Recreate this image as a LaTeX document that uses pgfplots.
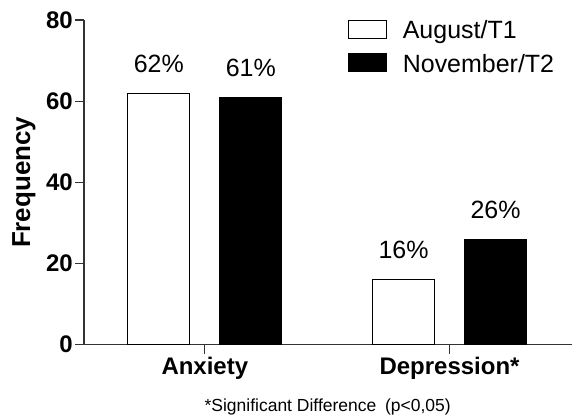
\documentclass[border=0pt]{standalone}
\usepackage{fontspec}
\setmainfont{Liberation Sans}
\usepackage{pgfplots}
\pgfplotsset{compat=1.18}

\begin{document}
\begin{tikzpicture}
\begin{axis}[
    scale only axis,
    width=489pt, height=325pt,
    ybar,
    xmin=-0.494, xmax=1.502,
    ymin=0, ymax=80,
    axis x line*=bottom,
    axis y line*=left,
    axis line style={line width=1.2pt, black!80},
    every tick/.style={line width=1.2pt, black!80},
    tick align=outside,
    major tick length=9pt,
    xtick={0,1},
    xticklabels={Anxiety, Depression*},
    ytick={0,20,40,60,80},
    /pgf/number format/assume math mode=true,
    yticklabel style={font=\bfseries\fontsize{24}{24}\selectfont, inner sep=2pt},
    xticklabel style={font=\bfseries\fontsize{24}{24}\selectfont},
    ylabel={Frequency},
    ylabel style={font=\bfseries\fontsize{26}{26}\selectfont, at={(axis description cs:-0.123,0.5)}, anchor=center},
    xlabel={*Significant Difference\hspace{0.5em}(p<0,05)},
    xlabel style={font=\fontsize{17.5}{17.5}\selectfont, at={(axis description cs:0.499,-0.206)}, anchor=base},
    bar width=0.253,
    nodes near coords={\pgfmathprintnumber{\pgfplotspointmeta}\%},
    point meta=y,
    every node near coord/.append style={font=\fontsize{25}{25}\selectfont, anchor=base, yshift=21pt},
    legend cell align=left,
    legend image code/.code={\draw[#1, line width=1pt] (0pt,-8pt) rectangle (38pt,10pt);},
    legend style={draw=none, fill=none, inner sep=0pt, at={(axis description cs:0.54,1.005)}, anchor=north west,
        font=\fontsize{25}{25}\selectfont, row sep=10pt,
        /tikz/every odd column/.append style={column sep=14pt}},
]
\addplot[draw=black, fill=white, line width=1pt, bar shift=-0.188] coordinates {(0,62) (1,16)};
\addlegendentry{August/T1}
\addplot[draw=black, fill=black, line width=1pt, bar shift=0.188] coordinates {(0,61) (1,26)};
\addlegendentry{November/T2}
\end{axis}
\path (current axis.south west) ++(-84pt,-72pt) rectangle ++(573pt,417pt);
\end{tikzpicture}
\end{document}
